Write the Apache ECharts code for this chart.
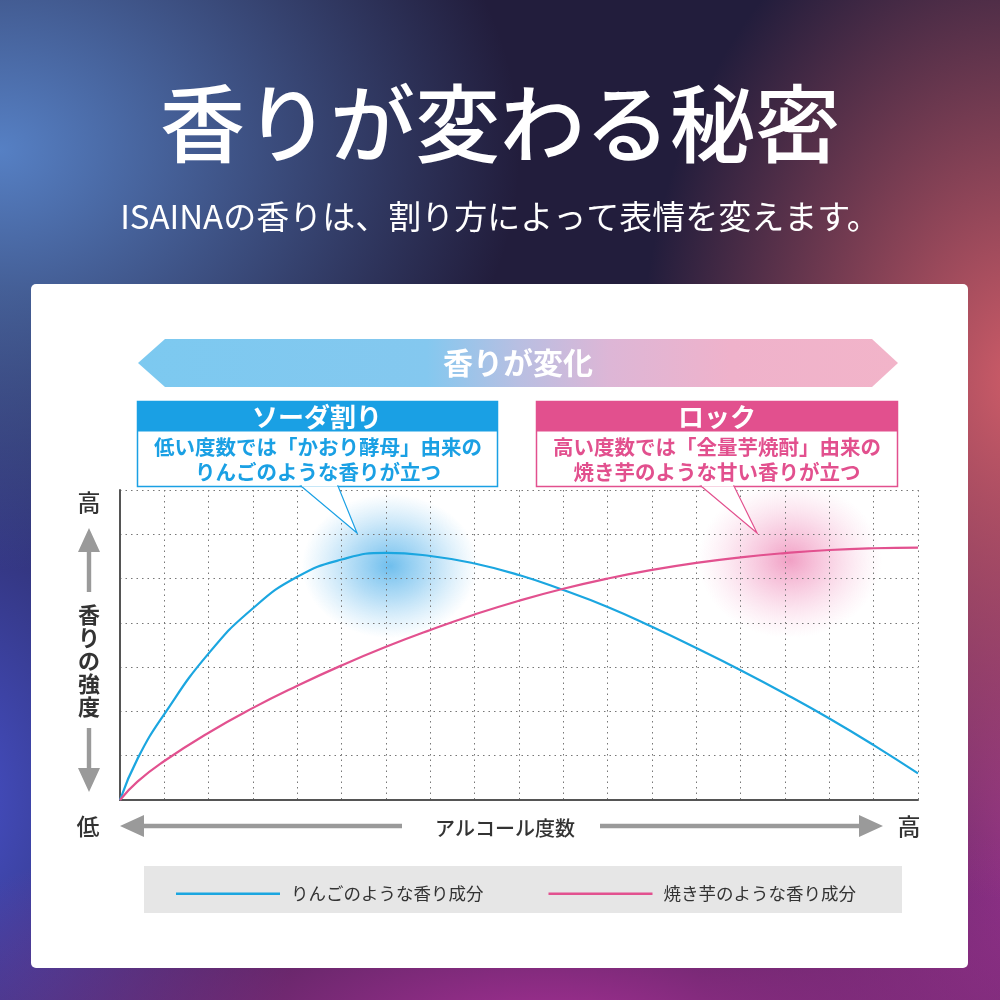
<!DOCTYPE html>
<html>
<head>
<meta charset="utf-8">
<script src="https://cdn.jsdelivr.net/npm/echarts@6/dist/echarts.min.js"></script>
<style>
  html, body { margin:0; padding:0; width:1000px; height:1000px; overflow:hidden; }
  body {
    background:
      radial-gradient(ellipse 520px 420px at 0% 15%, rgba(86,128,196,1) 0%, rgba(86,128,196,0) 100%),
      radial-gradient(ellipse 380px 520px at 102% 38%, rgba(206,92,104,1) 0%, rgba(206,92,104,0) 100%),
      radial-gradient(ellipse 700px 260px at 55% 104%, rgba(168,48,150,1) 0%, rgba(168,48,150,0) 100%),
      radial-gradient(ellipse 360px 520px at -5% 80%, rgba(70,80,200,1) 0%, rgba(70,80,200,0) 100%),
      radial-gradient(ellipse 360px 520px at 105% 85%, rgba(150,50,140,1) 0%, rgba(150,50,140,0) 100%),
      #221d3c;
  }
  #panel { position:absolute; left:31px; top:284px; width:937px; height:684px; background:#fff; border-radius:5px; }
  #main { position:absolute; left:0; top:0; width:1000px; height:1000px; }
</style>
</head>
<body>
<div id="panel"></div>
<div id="main"></div>
<script>
// ---- data ----
const alcoholLevels = [0, 0.4, 1, 2, 3, 4, 5, 6, 7, 8, 9, 10, 11, 12, 13, 14, 15, 16, 17, 18];
const appleAroma    = [0, 0.94, 1.94, 3.31, 4.33, 5.04, 5.43, 5.58, 5.51, 5.34, 5.08, 4.74, 4.36, 3.91, 3.43, 2.93, 2.40, 1.84, 1.24, 0.60];
const potatoAroma   = [0, 0.42, 0.88, 1.52, 2.08, 2.58, 3.04, 3.46, 3.84, 4.19, 4.50, 4.77, 5.00, 5.195, 5.355, 5.48, 5.575, 5.645, 5.685, 5.70];
const seriesNames   = ['りんごのような香り成分', '焼き芋のような香り成分'];
const seriesColors  = ['#1ba6e0', '#e2518f'];
const titleText     = '香りが変わる秘密';
const subtitleText  = 'ISAINAの香りは、割り方によって表情を変えます。';
const bannerText    = '香りが変化';
const sodaTitle     = 'ソーダ割り';
const sodaLines     = ['低い度数では「かおり酵母」由来の', 'りんごのような香りが立つ'];
const rockTitle     = 'ロック';
const rockLines     = ['高い度数では「全量芋焼酎」由来の', '焼き芋のような甘い香りが立つ'];
const xAxisName     = 'アルコール度数';
const yAxisName     = '香りの強度';
const lowLabel      = '低';
const highLabel     = '高';

const FONT = '"Noto Sans CJK JP", "Noto Sans", sans-serif';
const chart = echarts.init(document.getElementById('main'), null, {renderer: 'canvas'});

function toPairs(xs, ys) { return xs.map((x, i) => [x, ys[i]]); }

const gray = '#9a9a9a';
const blue = '#1aa0e4';
const pink = '#e2508e';

const graphics = [
  // glows
  { type: 'circle', z: -1, shape: {cx: 390, cy: 566, r: 88}, scaleY: 0.82, originX: 390, originY: 566,
    style: { fill: new echarts.graphic.RadialGradient(0.5, 0.5, 0.5, [
      {offset: 0, color: 'rgba(70,172,232,0.78)'}, {offset: 0.45, color: 'rgba(90,180,235,0.45)'}, {offset: 1, color: 'rgba(120,195,240,0)'}]) } },
  { type: 'circle', z: -1, shape: {cx: 790, cy: 560, r: 92}, scaleY: 0.85, originX: 790, originY: 560,
    style: { fill: new echarts.graphic.RadialGradient(0.5, 0.5, 0.5, [
      {offset: 0, color: 'rgba(232,100,160,0.62)'}, {offset: 0.45, color: 'rgba(238,130,180,0.35)'}, {offset: 1, color: 'rgba(245,170,205,0)'}]) } },
  // banner
  { type: 'polygon', z: 5, shape: { points: [[138,363],[165,339],[872,339],[898,363],[872,387],[165,387]] },
    style: { fill: new echarts.graphic.LinearGradient(0, 0, 1, 0, [
      {offset: 0, color: '#7cc9f0'}, {offset: 0.38, color: '#84c8ef'}, {offset: 0.5, color: '#b8bfe2'},
      {offset: 0.62, color: '#ddb6d6'}, {offset: 0.78, color: '#efb2cb'}, {offset: 1, color: '#f2b4c9'}]) } },
  { type: 'text', z: 6, style: { text: bannerText, x: 518, y: 363, align: 'center', verticalAlign: 'middle', font: 'bold 30px ' + FONT, fill: '#ffffff' } },
  // soda box
  { type: 'rect', z: 8, shape: {x: 137.5, y: 401.5, width: 360, height: 85}, style: { fill: '#fff', stroke: blue, lineWidth: 1.5 } },
  { type: 'rect', z: 9, shape: {x: 137.5, y: 401.5, width: 360, height: 30}, style: { fill: blue } },
  { type: 'polygon', z: 9, shape: { points: [[301,486],[357,533],[338,486]] }, style: { fill: '#fff', stroke: blue, lineWidth: 1.2 } },
  { type: 'rect', z: 10, shape: {x: 302, y: 484, width: 35, height: 2.5}, style: { fill: '#fff' } },
  { type: 'text', z: 10, style: { text: sodaTitle, x: 317, y: 417, align: 'center', verticalAlign: 'middle', font: 'bold 26px ' + FONT, fill: '#fff' } },
  { type: 'text', z: 10, style: { text: sodaLines[0], x: 318, y: 447, align: 'center', verticalAlign: 'middle', font: 'bold 20.5px ' + FONT, fill: blue } },
  { type: 'text', z: 10, style: { text: sodaLines[1], x: 318, y: 472, align: 'center', verticalAlign: 'middle', font: 'bold 20.5px ' + FONT, fill: blue } },
  // rock box
  { type: 'rect', z: 8, shape: {x: 536.5, y: 401.5, width: 361, height: 85}, style: { fill: '#fff', stroke: pink, lineWidth: 1.5 } },
  { type: 'rect', z: 9, shape: {x: 536.5, y: 401.5, width: 361, height: 30}, style: { fill: pink } },
  { type: 'polygon', z: 9, shape: { points: [[701,486],[757,533],[734,486]] }, style: { fill: '#fff', stroke: pink, lineWidth: 1.2 } },
  { type: 'rect', z: 10, shape: {x: 702, y: 484, width: 31, height: 2.5}, style: { fill: '#fff' } },
  { type: 'text', z: 10, style: { text: rockTitle, x: 717, y: 417, align: 'center', verticalAlign: 'middle', font: 'bold 26px ' + FONT, fill: '#fff' } },
  { type: 'text', z: 10, style: { text: rockLines[0], x: 717, y: 447, align: 'center', verticalAlign: 'middle', font: 'bold 20.5px ' + FONT, fill: pink } },
  { type: 'text', z: 10, style: { text: rockLines[1], x: 717, y: 472, align: 'center', verticalAlign: 'middle', font: 'bold 20.5px ' + FONT, fill: pink } },
  // y-axis arrows and labels
  { type: 'text', z: 5, style: { text: highLabel, x: 89, y: 502, align: 'center', verticalAlign: 'middle', font: '500 23px ' + FONT, fill: '#333' } },
  { type: 'polygon', z: 5, shape: { points: [[89,528],[100,552],[91.2,552],[91.2,592],[86.8,592],[86.8,552],[78,552]] }, style: { fill: gray } },
  { type: 'text', z: 5, style: { text: yAxisName.split('').join('\n'), x: 89, y: 661, align: 'center', verticalAlign: 'middle', lineHeight: 23, font: 'bold 22px ' + FONT, fill: '#333' } },
  { type: 'polygon', z: 5, shape: { points: [[89,792],[100,768],[91.2,768],[91.2,728],[86.8,728],[86.8,768],[78,768]] }, style: { fill: gray } },
  { type: 'text', z: 5, style: { text: lowLabel, x: 88, y: 826, align: 'center', verticalAlign: 'middle', font: '500 23px ' + FONT, fill: '#333' } },
  // x-axis arrows and labels
  { type: 'polygon', z: 5, shape: { points: [[120,826],[144,815],[144,823.8],[402,823.8],[402,828.2],[144,828.2],[144,837]] }, style: { fill: gray } },
  { type: 'text', z: 5, style: { text: xAxisName, x: 505, y: 828, align: 'center', verticalAlign: 'middle', font: '500 20px ' + FONT, fill: '#333' } },
  { type: 'polygon', z: 5, shape: { points: [[883,826],[859,815],[859,823.8],[600,823.8],[600,828.2],[859,828.2],[859,837]] }, style: { fill: gray } },
  { type: 'text', z: 5, style: { text: highLabel, x: 909, y: 826, align: 'center', verticalAlign: 'middle', font: '500 23px ' + FONT, fill: '#333' } },
  // legend box
  { type: 'rect', z: -1, shape: {x: 144, y: 866, width: 758, height: 47}, style: { fill: '#e6e6e6' } }
];

const option = {
  animation: false,
  title: [
    { text: titleText, left: 'center', top: 76,
      textStyle: { fontFamily: FONT, fontSize: 85, fontWeight: 500, color: '#ffffff' } },
    { text: subtitleText, left: 'center', top: 195,
      textStyle: { fontFamily: FONT, fontSize: 33, fontWeight: 400, color: '#ffffff' } }
  ],
  grid: { left: 120, top: 490, width: 798, height: 310, containLabel: false },
  xAxis: {
    type: 'value', min: 0, max: 18, interval: 1,
    axisLine: { show: true, onZero: false, lineStyle: { color: '#555', width: 2 } },
    axisTick: { show: false }, axisLabel: { show: false },
    splitLine: { show: true, lineStyle: { color: '#777', width: 1, type: [1.5, 4] } }
  },
  yAxis: {
    type: 'value', min: 0, max: 7, interval: 1,
    axisLine: { show: true, onZero: false, lineStyle: { color: '#555', width: 2 } },
    axisTick: { show: false }, axisLabel: { show: false },
    splitLine: { show: true, lineStyle: { color: '#777', width: 1, type: [1.5, 4] } }
  },
  legend: {
    left: 171, top: 880, itemGap: 65, itemWidth: 104, itemHeight: 2.5, icon: 'rect',
    selectedMode: false,
    textStyle: { fontFamily: FONT, fontSize: 17.5, color: '#333', padding: [0, 0, 0, 6] },
    data: seriesNames
  },
  series: [
    { name: seriesNames[0], type: 'line', smooth: true, showSymbol: false, symbol: 'none',
      lineStyle: { color: seriesColors[0], width: 2.2 }, itemStyle: { color: seriesColors[0] }, z: 3,
      data: toPairs(alcoholLevels, appleAroma) },
    { name: seriesNames[1], type: 'line', smooth: true, showSymbol: false, symbol: 'none',
      lineStyle: { color: seriesColors[1], width: 2.2 }, itemStyle: { color: seriesColors[1] }, z: 3,
      data: toPairs(alcoholLevels, potatoAroma) }
  ],
  graphic: graphics
};
chart.setOption(option);
</script>
</body>
</html>
